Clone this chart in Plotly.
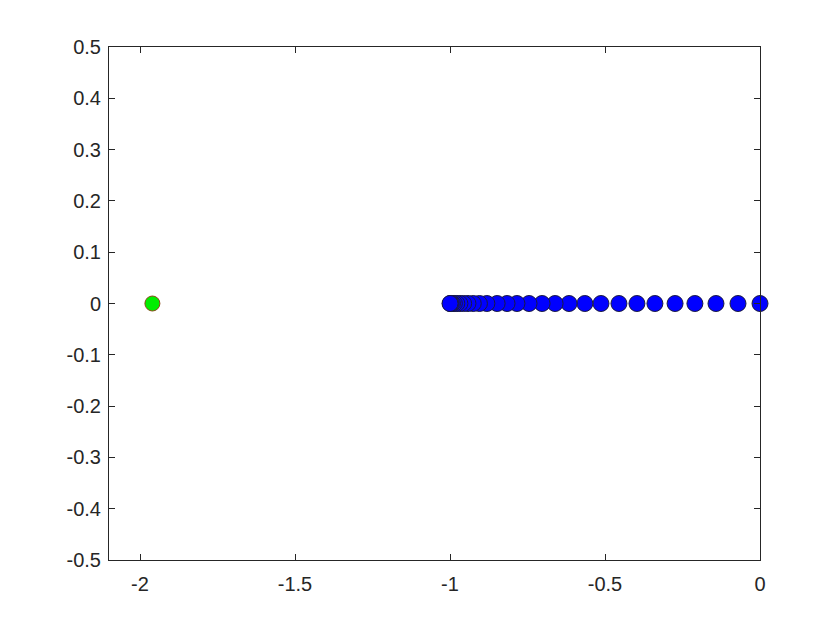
import plotly.graph_objects as go

blue_x = [0.0, -0.071, -0.142, -0.210, -0.274, -0.339, -0.397, -0.455, -0.513,
          -0.565, -0.616, -0.661, -0.703, -0.745, -0.784, -0.816, -0.848, -0.881,
          -0.905, -0.925, -0.942, -0.956, -0.968, -0.978, -0.986, -0.992, -0.996,
          -0.999, -1.0]
blue_y = [0.0] * len(blue_x)

green_x = [-1.96]
green_y = [0.0]

x_ticks = [-2, -1.5, -1, -0.5, 0]
y_ticks = [-0.5, -0.4, -0.3, -0.2, -0.1, 0, 0.1, 0.2, 0.3, 0.4, 0.5]

fig = go.Figure()
fig.add_trace(go.Scatter(
    x=blue_x, y=blue_y, mode="markers",
    marker=dict(size=16, color="#0000ff", line=dict(color="#1a1a40", width=1)),
    showlegend=False, cliponaxis=False,
))
fig.add_trace(go.Scatter(
    x=green_x, y=green_y, mode="markers",
    marker=dict(size=15, color="#00ee00", line=dict(color="#8b4a1a", width=1)),
    showlegend=False, cliponaxis=False,
))

axis_style = dict(
    showline=True, linecolor="#262626", linewidth=1, mirror="ticks",
    ticks="inside", ticklen=6, tickcolor="#262626", showgrid=False, zeroline=False,
    tickfont=dict(family="Liberation Sans, Arial, sans-serif", size=20, color="#262626"),
)

fig.update_xaxes(range=[-2.1, 0], tickvals=x_ticks, ticklabelstandoff=6,
                 ticktext=[f"{v:g}" for v in x_ticks], **axis_style)
fig.update_yaxes(range=[-0.5, 0.5], tickvals=y_ticks, ticklabelstandoff=3,
                 ticktext=[f"{v:g}" for v in y_ticks], **axis_style)

# page body has an 8px default margin, so the figure is a bit smaller
fig.update_layout(
    width=824, height=614,
    margin=dict(l=101, r=72, t=39, b=62),
    paper_bgcolor="white", plot_bgcolor="white",
)

fig.write_html("out.html")
